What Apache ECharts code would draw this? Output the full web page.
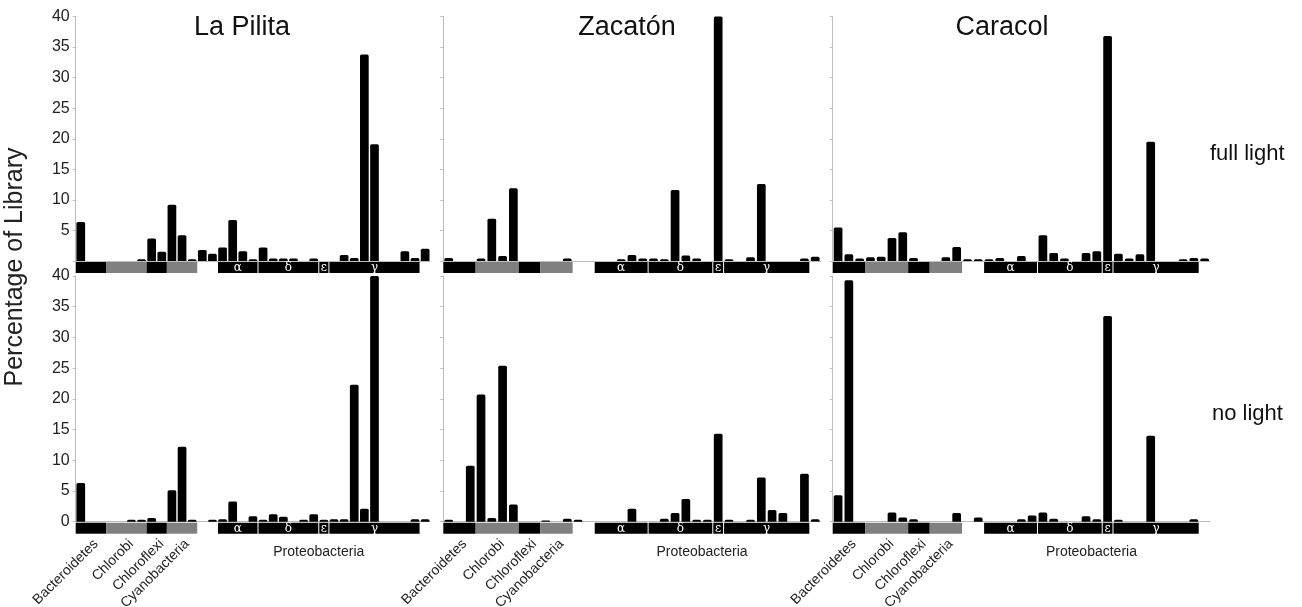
<!DOCTYPE html>
<html><head><meta charset="utf-8">
<script src="https://cdn.jsdelivr.net/npm/echarts@6/dist/echarts.min.js"></script>
<style>html,body{margin:0;padding:0;background:#fff}#c{width:1302px;height:607px}</style>
</head><body><div id="c"></div>
<script>
// ---------- data ----------
const sites = ['La Pilita', 'Zacatón', 'Caracol'];
const conditions = ['full light', 'no light'];
const yTicks = [0, 5, 10, 15, 20, 25, 30, 35, 40];
const slots = Array.from({length: 35}, (_, i) => 'c' + (i + 1));

const laPilitaFull = [6.4,0,0,0,0,0,0.3,3.7,1.5,9.2,4.2,0.3,1.8,1.2,2.2,6.7,1.6,0.3,2.2,0.4,0.4,0.4,0,0.4,0,0,1.0,0.5,33.8,19.1,0,0,1.6,0.5,2.0];
const laPilitaNo   = [6.3,0,0,0,0,0.3,0.3,0.6,0,5.1,12.2,0.3,0,0.3,0.4,3.3,0,0.9,0.3,1.2,0.8,0,0.3,1.2,0.3,0.4,0.4,22.3,2.1,40,0,0,0,0.4,0.4];
const zacatonFull  = [0.5,0,0,0.4,6.9,0.8,11.9,0,0,0,0,0.4,0,0,0,0,0.3,1.0,0.4,0.4,0.3,11.6,0.9,0.4,0,40,0.3,0,0.6,12.6,0,0,0,0.4,0.7];
const zacatonNo    = [0.3,0,9.1,20.7,0.6,25.4,2.8,0,0,0.2,0,0.5,0.3,0,0,0,0,2.1,0,0,0.5,1.4,3.7,0.3,0.3,14.3,0.3,0,0.3,7.2,1.9,1.4,0,7.8,0.4];
const caracolFull  = [5.5,1.1,0.4,0.6,0.7,3.75,4.7,0.5,0,0,0.6,2.3,0.3,0.3,0.3,0.5,0,0.8,0,4.2,1.3,0.4,0,1.3,1.6,36.8,1.2,0.4,1.1,19.5,0,0,0.3,0.5,0.4];
const caracolNo    = [4.3,39.3,0,0,0,1.5,0.7,0.4,0,0,0,1.4,0,0.7,0,0,0,0.4,1.0,1.5,0.5,0,0,0.9,0.4,33.5,0.3,0,0,14.0,0,0,0,0.4,0];

const groupNames = ['Bacteroidetes','Chlorobi','Chloroflexi','Cyanobacteria','α','δ','ε','γ','Proteobacteria'];
const groupKinds = ['phylum','phylum','phylum','phylum','class','class','class','class','label'];
const groupStartsLaPilita = [0,3,7,9,14,18,24,25,14];
const groupEndsLaPilita   = [3,7,9,12,18,24,25,34,34];
const groupStartsOther    = [0,3,7,9,14,19,25,26,14];
const groupEndsOther      = [3,7,9,12,19,25,26,34,34];

// ---------- layout ----------
const panelData = [
  [laPilitaFull, zacatonFull, caracolFull],
  [laPilitaNo, zacatonNo, caracolNo]
];
const colLeft = [75.7, 443.3, 832.7];
const colWidth = [354.5, 377.3, 377.3];
const rowTop = [16.5, 276];
const rowHeight = [244.5, 245.7];
const FONT = '"Liberation Sans", Arial, sans-serif';

const grids = [], xAxes = [], yAxes = [], series = [];
for (let r = 0; r < 2; r++) {
  for (let c = 0; c < 3; c++) {
    const k = r * 3 + c;
    grids.push({left: colLeft[c], top: rowTop[r], width: colWidth[c], height: rowHeight[r], containLabel: false});
    xAxes.push({
      type: 'category', gridIndex: k, data: slots, boundaryGap: true,
      axisLine: {show: true, lineStyle: {color: '#bdbdbd', width: 1}},
      axisTick: {show: false}, axisLabel: {show: false}, splitLine: {show: false}
    });
    yAxes.push({
      type: 'value', gridIndex: k, min: 0, max: 40, interval: 5,
      axisLine: {show: true, lineStyle: {color: '#bdbdbd', width: 1}},
      axisTick: {show: true, length: 3, lineStyle: {color: '#bdbdbd'}},
      splitLine: {show: false},
      axisLabel: {
        show: c === 0, color: '#222', fontSize: 16, fontFamily: FONT, margin: 6,
        formatter: v => (r === 0 && v === 0) ? '' : (yTicks.includes(v) ? String(v) : '')
      }
    });
    series.push({
      type: 'bar', xAxisIndex: k, yAxisIndex: k, data: panelData[r][c],
      barWidth: 8.7, silent: true,
      itemStyle: {color: '#000', borderRadius: [1.5, 1.5, 0, 0]}
    });
    const starts = c === 0 ? groupStartsLaPilita : groupStartsOther;
    const ends = c === 0 ? groupEndsLaPilita : groupEndsOther;
    const boxData = groupNames.map((n, i) => [starts[i], ends[i], 0, i]);
    const bottomRow = r === 1;
    series.push({
      type: 'custom', xAxisIndex: k, yAxisIndex: k, silent: true, clip: false,
      encode: {x: [0, 1], y: 2},
      data: boxData,
      z: 3,
      renderItem: (params, api) => {
        const s = api.value(0), e = api.value(1), gi = api.value(3);
        const band = api.size([1, 0])[0];
        const p0 = api.coord([s, 0]);
        const p1 = api.coord([e - 1, 0]);
        const x0 = p0[0] - band / 2, x1 = p1[0] + band / 2;
        const y0 = p0[1];
        const kind = groupKinds[gi];
        const children = [];
        if (kind === 'phylum') {
          children.push({type: 'rect', shape: {x: x0, y: y0 + 1, width: x1 - x0, height: 11},
            style: {fill: gi % 2 === 1 ? '#808080' : '#000'}});
          if (bottomRow) {
            children.push({type: 'text', x: (x0 + x1) / 2 + 5, y: y0 + 20, rotation: Math.PI / 4,
              style: {text: groupNames[gi], fill: '#222', font: '14px ' + FONT, align: 'right', verticalAlign: 'middle'}});
          }
        } else if (kind === 'class') {
          children.push({type: 'rect', shape: {x: x0 + 0.5, y: y0 + 1, width: x1 - x0 - 1, height: 11},
            style: {fill: '#000'}});
          children.push({type: 'text', x: (x0 + x1) / 2, y: y0 + 7,
            style: {text: groupNames[gi], fill: '#fff', font: '12px "DejaVu Serif", serif', align: 'center', verticalAlign: 'middle'}});
        } else if (bottomRow) {
          children.push({type: 'text', x: (x0 + x1) / 2, y: y0 + 30,
            style: {text: groupNames[gi], fill: '#222', font: '14px ' + FONT, align: 'center', verticalAlign: 'middle'}});
        }
        return {type: 'group', children};
      }
    });
  }
}

const titleCenters = [242, 627, 1002];
const graphics = sites.map((s, i) => ({
  type: 'text', x: titleCenters[i], y: 28,
  style: {text: s, fill: '#111', font: '27px ' + FONT, align: 'center', verticalAlign: 'middle'}
}));
graphics.push({type: 'text', x: 1210, y: 154, style: {text: conditions[0], fill: '#111', font: '22px ' + FONT, align: 'left', verticalAlign: 'middle'}});
graphics.push({type: 'text', x: 1212, y: 414, style: {text: conditions[1], fill: '#111', font: '22px ' + FONT, align: 'left', verticalAlign: 'middle'}});
graphics.push({type: 'text', x: 15, y: 267, rotation: Math.PI / 2,
  style: {text: 'Percentage of Library', fill: '#222', font: '25px ' + FONT, align: 'center', verticalAlign: 'middle'}});

const chart = echarts.init(document.getElementById('c'), null, {renderer: 'canvas'});
chart.setOption({
  animation: false,
  backgroundColor: '#fff',
  grid: grids, xAxis: xAxes, yAxis: yAxes, series: series,
  graphic: graphics
});
</script></body></html>
